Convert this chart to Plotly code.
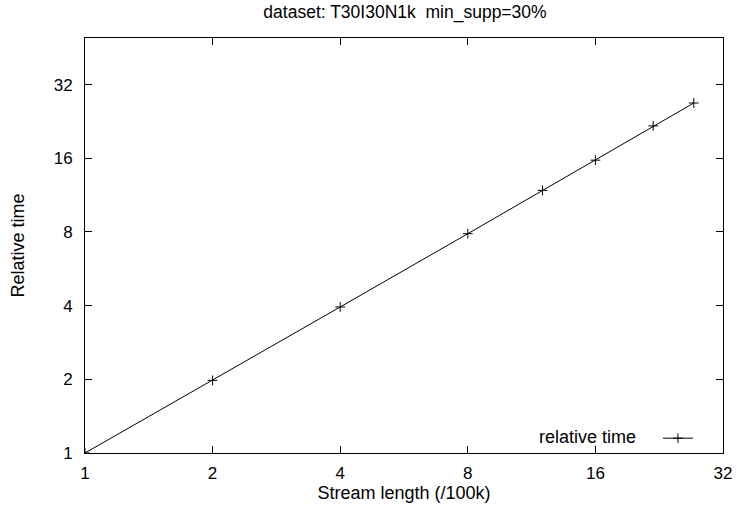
import plotly.graph_objects as go
import math

# Data
stream_length = [1, 2, 4, 8, 12, 16, 21.9, 27.3]
relative_time = [1, 1.98, 3.95, 7.87, 11.83, 15.72, 21.7, 26.9]
tick_vals = [1, 2, 4, 8, 16, 32]
tick_text = ["1", "2", "4", "8", "16", "32"]

FONT = "Liberation Sans, Arial, Helvetica, sans-serif"
FS_TICK = 17
FS_LABEL = 18

fig = go.Figure()
fig.add_trace(go.Scatter(
    x=stream_length, y=relative_time,
    mode="lines+markers",
    name=" ",
    line=dict(color="black", width=1),
    marker=dict(symbol="cross-thin", size=7, line=dict(color="black", width=1), color="black"),
    showlegend=True,
))

axis_common = dict(
    type="log",
    tickmode="array",
    tickvals=tick_vals,
    ticktext=tick_text,
    ticks="inside",
    ticklen=7,
    tickwidth=1,
    tickcolor="black",
    showline=True,
    linecolor="black",
    linewidth=1,
    mirror="ticks",
    showgrid=False,
    zeroline=False,
    automargin=False,
    tickfont=dict(family=FONT, size=FS_TICK, color="black"),
)

fig.update_layout(
    width=737, height=514,
    margin=dict(l=85, r=14, t=38, b=61),
    paper_bgcolor="white",
    plot_bgcolor="white",
    font=dict(family=FONT, size=FS_LABEL, color="black"),
    title=dict(text="dataset: T30I30N1k  min_supp=30%", x=0.5495, xanchor="center",
               yref="container", y=0.977, yanchor="middle",
               font=dict(family=FONT, size=17.5, color="black")),
    xaxis=dict(axis_common, range=[0, math.log10(32)], ticklabelstandoff=5,
               title=dict(text="Stream length (/100k)", font=dict(family=FONT, size=FS_LABEL), standoff=3)),
    yaxis=dict(axis_common, range=[0, math.log10(49.6)], ticklabelstandoff=8,
               title=dict(text="Relative time", font=dict(family=FONT, size=FS_LABEL), standoff=24)),
    legend=dict(x=0.978, y=0.035, xanchor="right", yanchor="middle",
                bgcolor="rgba(0,0,0,0)", font=dict(family=FONT, size=FS_LABEL),
                itemwidth=30),
    annotations=[dict(text="relative time", xref="paper", yref="paper",
                      x=0.867, y=0.039, xanchor="right", yanchor="middle",
                      showarrow=False, font=dict(family=FONT, size=FS_LABEL, color="black"))],
)

fig.write_html("out.html", config={"displayModeBar": False},
               post_script="document.body.style.margin='0';")
